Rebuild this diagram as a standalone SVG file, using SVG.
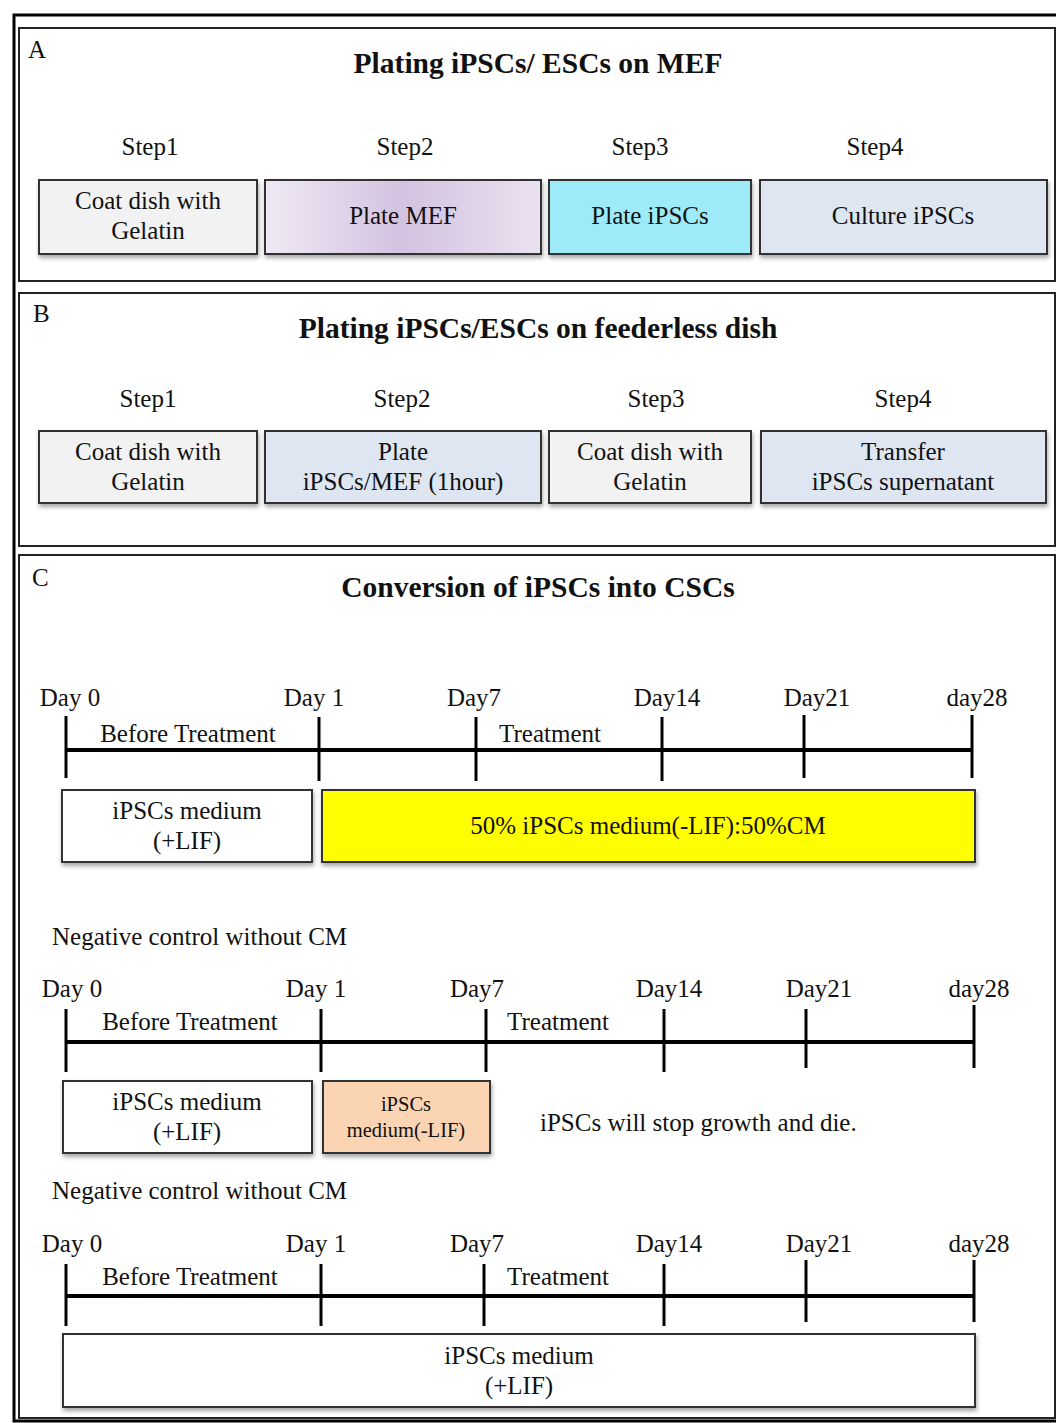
<svg xmlns="http://www.w3.org/2000/svg" width="1056" height="1423" viewBox="0 0 1056 1423">
<style>
text{font-family:"Liberation Serif","Times New Roman",serif;fill:#111;}
.t{font-size:25px;text-anchor:middle;}
.title{font-size:29.5px;font-weight:bold;text-anchor:middle;}
.lab{font-size:25px;}
.sm{font-size:20.5px;text-anchor:middle;}
.panel{fill:none;stroke:#222;stroke-width:2;}
.box{stroke:#333;stroke-width:2;filter:url(#sh);}
.tick{stroke:#000;stroke-width:3;}
.axis{stroke:#000;stroke-width:4;}
</style>
<defs>
<filter id="sh" x="-5%" y="-10%" width="110%" height="130%">
<feDropShadow dx="1" dy="3" stdDeviation="2" flood-color="#000" flood-opacity="0.35"/>
</filter>
<linearGradient id="purp" x1="0" y1="0" x2="1" y2="0">
<stop offset="0" stop-color="#efe9f4"/>
<stop offset="0.5" stop-color="#d4c2e1"/>
<stop offset="1" stop-color="#ebe2f0"/>
</linearGradient>
</defs>
<rect width="1056" height="1423" fill="#fff"/>
<rect x="14" y="15" width="1050" height="1406" fill="none" stroke="#000" stroke-width="3"/>
<rect class="panel" x="19" y="28" width="1036" height="253"/>
<rect class="panel" x="19" y="293" width="1036" height="253"/>
<rect class="panel" x="19" y="555" width="1036" height="863"/>

<g id="panelA">
<text class="lab" x="28" y="58">A</text>
<text class="title" x="538" y="73">Plating iPSCs/ ESCs on MEF</text>
<text class="t" x="150" y="155">Step1</text>
<text class="t" x="405" y="155">Step2</text>
<text class="t" x="640" y="155">Step3</text>
<text class="t" x="875" y="155">Step4</text>
<g id="a1"><rect class="box" x="39" y="180" width="218" height="74" fill="#f2f2f2"/><text class="t" x="148" y="209">Coat dish with</text><text class="t" x="148" y="239">Gelatin</text></g>
<g id="a2"><rect class="box" x="265" y="180" width="276" height="74" fill="url(#purp)"/><text class="t" x="403" y="224">Plate MEF</text></g>
<g id="a3"><rect class="box" x="549" y="180" width="202" height="74" fill="#9deaf9"/><text class="t" x="650" y="224">Plate iPSCs</text></g>
<g id="a4"><rect class="box" x="760" y="180" width="287" height="74" fill="#dde6f1"/><text class="t" x="903" y="224">Culture iPSCs</text></g>
</g>

<g id="panelB">
<text class="lab" x="33" y="322">B</text>
<text class="title" x="538" y="338">Plating iPSCs/ESCs on feederless dish</text>
<text class="t" x="148" y="407">Step1</text>
<text class="t" x="402" y="407">Step2</text>
<text class="t" x="656" y="407">Step3</text>
<text class="t" x="903" y="407">Step4</text>
<g id="b1"><rect class="box" x="39" y="431" width="218" height="72" fill="#f2f2f2"/><text class="t" x="148" y="460">Coat dish with</text><text class="t" x="148" y="490">Gelatin</text></g>
<g id="b2"><rect class="box" x="265" y="431" width="276" height="72" fill="#dde6f1"/><text class="t" x="403" y="460">Plate</text><text class="t" x="403" y="490">iPSCs/MEF (1hour)</text></g>
<g id="b3"><rect class="box" x="549" y="431" width="202" height="72" fill="#f2f2f2"/><text class="t" x="650" y="460">Coat dish with</text><text class="t" x="650" y="490">Gelatin</text></g>
<g id="b4"><rect class="box" x="761" y="431" width="285" height="72" fill="#dde6f1"/><text class="t" x="903" y="460">Transfer</text><text class="t" x="903" y="490">iPSCs supernatant</text></g>
</g>

<g id="panelC">
<text class="lab" x="32" y="586">C</text>
<text class="title" x="538" y="597">Conversion of iPSCs into CSCs</text>

<g id="timeline1">
<g class="t"><text x="70" y="706">Day 0</text><text x="314" y="706">Day 1</text><text x="474" y="706">Day7</text><text x="667" y="706">Day14</text><text x="817" y="706">Day21</text><text x="977" y="706">day28</text></g>
<text class="t" x="188" y="742">Before Treatment</text>
<text class="t" x="550" y="742">Treatment</text>
<line class="axis" x1="66" y1="750" x2="972" y2="750"/>
<line class="tick" x1="66" y1="716" x2="66" y2="778"/>
<line class="tick" x1="319" y1="717" x2="319" y2="781"/>
<line class="tick" x1="476" y1="717" x2="476" y2="781"/>
<line class="tick" x1="662" y1="717" x2="662" y2="781"/>
<line class="tick" x1="804" y1="715" x2="804" y2="778"/>
<line class="tick" x1="972" y1="715" x2="972" y2="778"/>
<g id="c1a"><rect class="box" x="62" y="790" width="250" height="72" fill="#fff"/><text class="t" x="187" y="819">iPSCs medium</text><text class="t" x="187" y="849">(+LIF)</text></g>
<g id="c1b"><rect class="box" x="322" y="790" width="653" height="72" fill="#ffff00"/><text class="t" x="648" y="834">50% iPSCs medium(-LIF):50%CM</text></g>
</g>

<g id="timeline2">
<text class="lab" x="52" y="945">Negative control without CM</text>
<g class="t"><text x="72" y="997">Day 0</text><text x="316" y="997">Day 1</text><text x="477" y="997">Day7</text><text x="669" y="997">Day14</text><text x="819" y="997">Day21</text><text x="979" y="997">day28</text></g>
<text class="t" x="190" y="1030">Before Treatment</text>
<text class="t" x="558" y="1030">Treatment</text>
<line class="axis" x1="66" y1="1042" x2="974" y2="1042"/>
<line class="tick" x1="66" y1="1009" x2="66" y2="1072"/>
<line class="tick" x1="321" y1="1009" x2="321" y2="1072"/>
<line class="tick" x1="486" y1="1009" x2="486" y2="1072"/>
<line class="tick" x1="664" y1="1009" x2="664" y2="1072"/>
<line class="tick" x1="806" y1="1009" x2="806" y2="1068"/>
<line class="tick" x1="974" y1="1005" x2="974" y2="1068"/>
<g id="c2a"><rect class="box" x="63" y="1081" width="249" height="72" fill="#fff"/><text class="t" x="187" y="1110">iPSCs medium</text><text class="t" x="187" y="1140">(+LIF)</text></g>
<g id="c2b"><rect class="box" x="323" y="1081" width="167" height="72" fill="#fbd4b4"/><text class="sm" x="406" y="1111">iPSCs</text><text class="sm" x="406" y="1137">medium(-LIF)</text></g>
<text class="lab" x="540" y="1131">iPSCs will stop growth and die.</text>
</g>

<g id="timeline3">
<text class="lab" x="52" y="1199">Negative control without CM</text>
<g class="t"><text x="72" y="1252">Day 0</text><text x="316" y="1252">Day 1</text><text x="477" y="1252">Day7</text><text x="669" y="1252">Day14</text><text x="819" y="1252">Day21</text><text x="979" y="1252">day28</text></g>
<text class="t" x="190" y="1285">Before Treatment</text>
<text class="t" x="558" y="1285">Treatment</text>
<line class="axis" x1="66" y1="1296" x2="974" y2="1296"/>
<line class="tick" x1="66" y1="1264" x2="66" y2="1326"/>
<line class="tick" x1="321" y1="1264" x2="321" y2="1326"/>
<line class="tick" x1="484" y1="1264" x2="484" y2="1326"/>
<line class="tick" x1="664" y1="1264" x2="664" y2="1326"/>
<line class="tick" x1="806" y1="1260" x2="806" y2="1322"/>
<line class="tick" x1="974" y1="1260" x2="974" y2="1322"/>
<g id="c3"><rect class="box" x="63" y="1334" width="912" height="73" fill="#fff"/><text class="t" x="519" y="1364">iPSCs medium</text><text class="t" x="519" y="1394">(+LIF)</text></g>
</g>
</g>
</svg>
